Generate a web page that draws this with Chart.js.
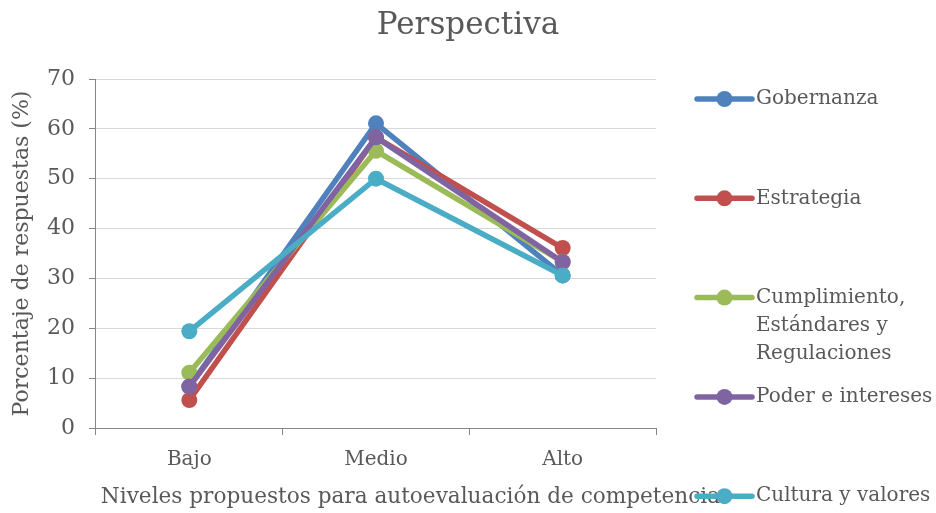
<!DOCTYPE html>
<html><head><meta charset="utf-8">
<script src="https://cdn.jsdelivr.net/npm/chart.js@4/dist/chart.umd.min.js"></script>
<style>html,body{margin:0;padding:0;background:#fff}#wrap{width:936px;height:513px}</style>
</head><body><div id="wrap"><canvas id="c" width="936" height="513"></canvas></div>
<script>
// Response share (%) per self-assessment level, one array per perspective
const categories = ['Bajo', 'Medio', 'Alto'];
const gobernanza = [8.3, 61.1, 30.6];
const estrategia = [5.6, 58.3, 36.1];
const cumplimiento = [11.1, 55.6, 33.3];
const poder = [8.3, 58.3, 33.3];
const cultura = [19.4, 50.0, 30.6];
const seriesLines = [
  ['Gobernanza'],
  ['Estrategia'],
  ['Cumplimiento,', 'Estándares y', 'Regulaciones'],
  ['Poder e intereses'],
  ['Cultura y valores']
];
const seriesColors = ['#4F81BD', '#C0504D', '#9BBB59', '#8064A2', '#4BACC6'];
const yTicks = [0, 10, 20, 30, 40, 50, 60, 70];
const chartTitle = 'Perspectiva';
const xTitle = 'Niveles propuestos para autoevaluación de competencias';
const yTitle = 'Porcentaje de respuestas (%)';

const FONT = 'DejaVu Serif';
const TEXT = '#595959';
const seriesValues = [gobernanza, estrategia, cumplimiento, poder, cultura];

const datasets = seriesValues.map((vals, i) => ({
  label: seriesLines[i].join(' '),
  data: vals,
  borderColor: seriesColors[i],
  backgroundColor: seriesColors[i],
  borderWidth: 5.5,
  pointRadius: 8,
  pointHoverRadius: 8,
  pointBorderWidth: 0,
  tension: 0,
  order: seriesValues.length - i   // later series are painted on top
}));

// Page title, x-axis title and a right-hand legend with wrapped labels
const decorations = {
  id: 'decorations',
  afterDraw(chart) {
    const ctx = chart.ctx;
    ctx.save();
    ctx.fillStyle = TEXT;
    ctx.textBaseline = 'middle';
    ctx.textAlign = 'center';
    ctx.font = `31px "${FONT}"`;
    ctx.fillText(chartTitle, chart.width / 2, 26);
    ctx.font = `21.6px "${FONT}"`;
    ctx.fillText(xTitle, 416, 497);
    // legend entries
    ctx.font = `20px "${FONT}"`;
    const x0 = 697, x1 = 752, top = 99, step = 99.3, lineH = 28;
    chart.data.datasets.forEach((ds, i) => {
      const y = top + i * step;
      ctx.strokeStyle = ds.borderColor;
      ctx.lineWidth = 5.5;
      ctx.lineCap = 'round';
      ctx.beginPath();
      ctx.moveTo(x0, y);
      ctx.lineTo(x1, y);
      ctx.stroke();
      ctx.fillStyle = ds.borderColor;
      ctx.beginPath();
      ctx.arc((x0 + x1) / 2, y, 8, 0, Math.PI * 2);
      ctx.fill();
      ctx.fillStyle = TEXT;
      ctx.textAlign = 'left';
      seriesLines[i].forEach((ln, k) => ctx.fillText(ln, x1 + 4, y + k * lineH));
    });
    ctx.restore();
  }
};

new Chart(document.getElementById('c'), {
  type: 'line',
  data: { labels: categories, datasets },
  options: {
    responsive: false,
    animation: false,
    devicePixelRatio: 1,
    layout: { padding: { left: 0, right: 280, top: 79, bottom: 28 } },
    plugins: {
      legend: { display: false },
      tooltip: { enabled: false },
      title: { display: false }
    },
    scales: {
      x: {
        offset: true,
        grid: { offset: true, drawOnChartArea: false, drawTicks: true, tickLength: 7, tickColor: '#868686' },
        border: { color: '#868686', width: 1 },
        ticks: { color: TEXT, font: { family: FONT, size: 20 }, padding: 13 }
      },
      y: {
        min: 0,
        max: 70,
        afterBuildTicks(scale) { scale.ticks = yTicks.map(v => ({ value: v })); },
        grid: { color: '#D9D9D9', tickColor: '#868686', tickLength: 7 },
        border: { color: '#868686', width: 1 },
        ticks: { color: TEXT, font: { family: FONT, size: 22 }, padding: 14 },
        title: { display: true, text: yTitle, color: TEXT, font: { family: FONT, size: 22, lineHeight: 1 }, padding: { top: 11, bottom: 0 } }
      }
    }
  },
  plugins: [decorations]
});
</script></body></html>
